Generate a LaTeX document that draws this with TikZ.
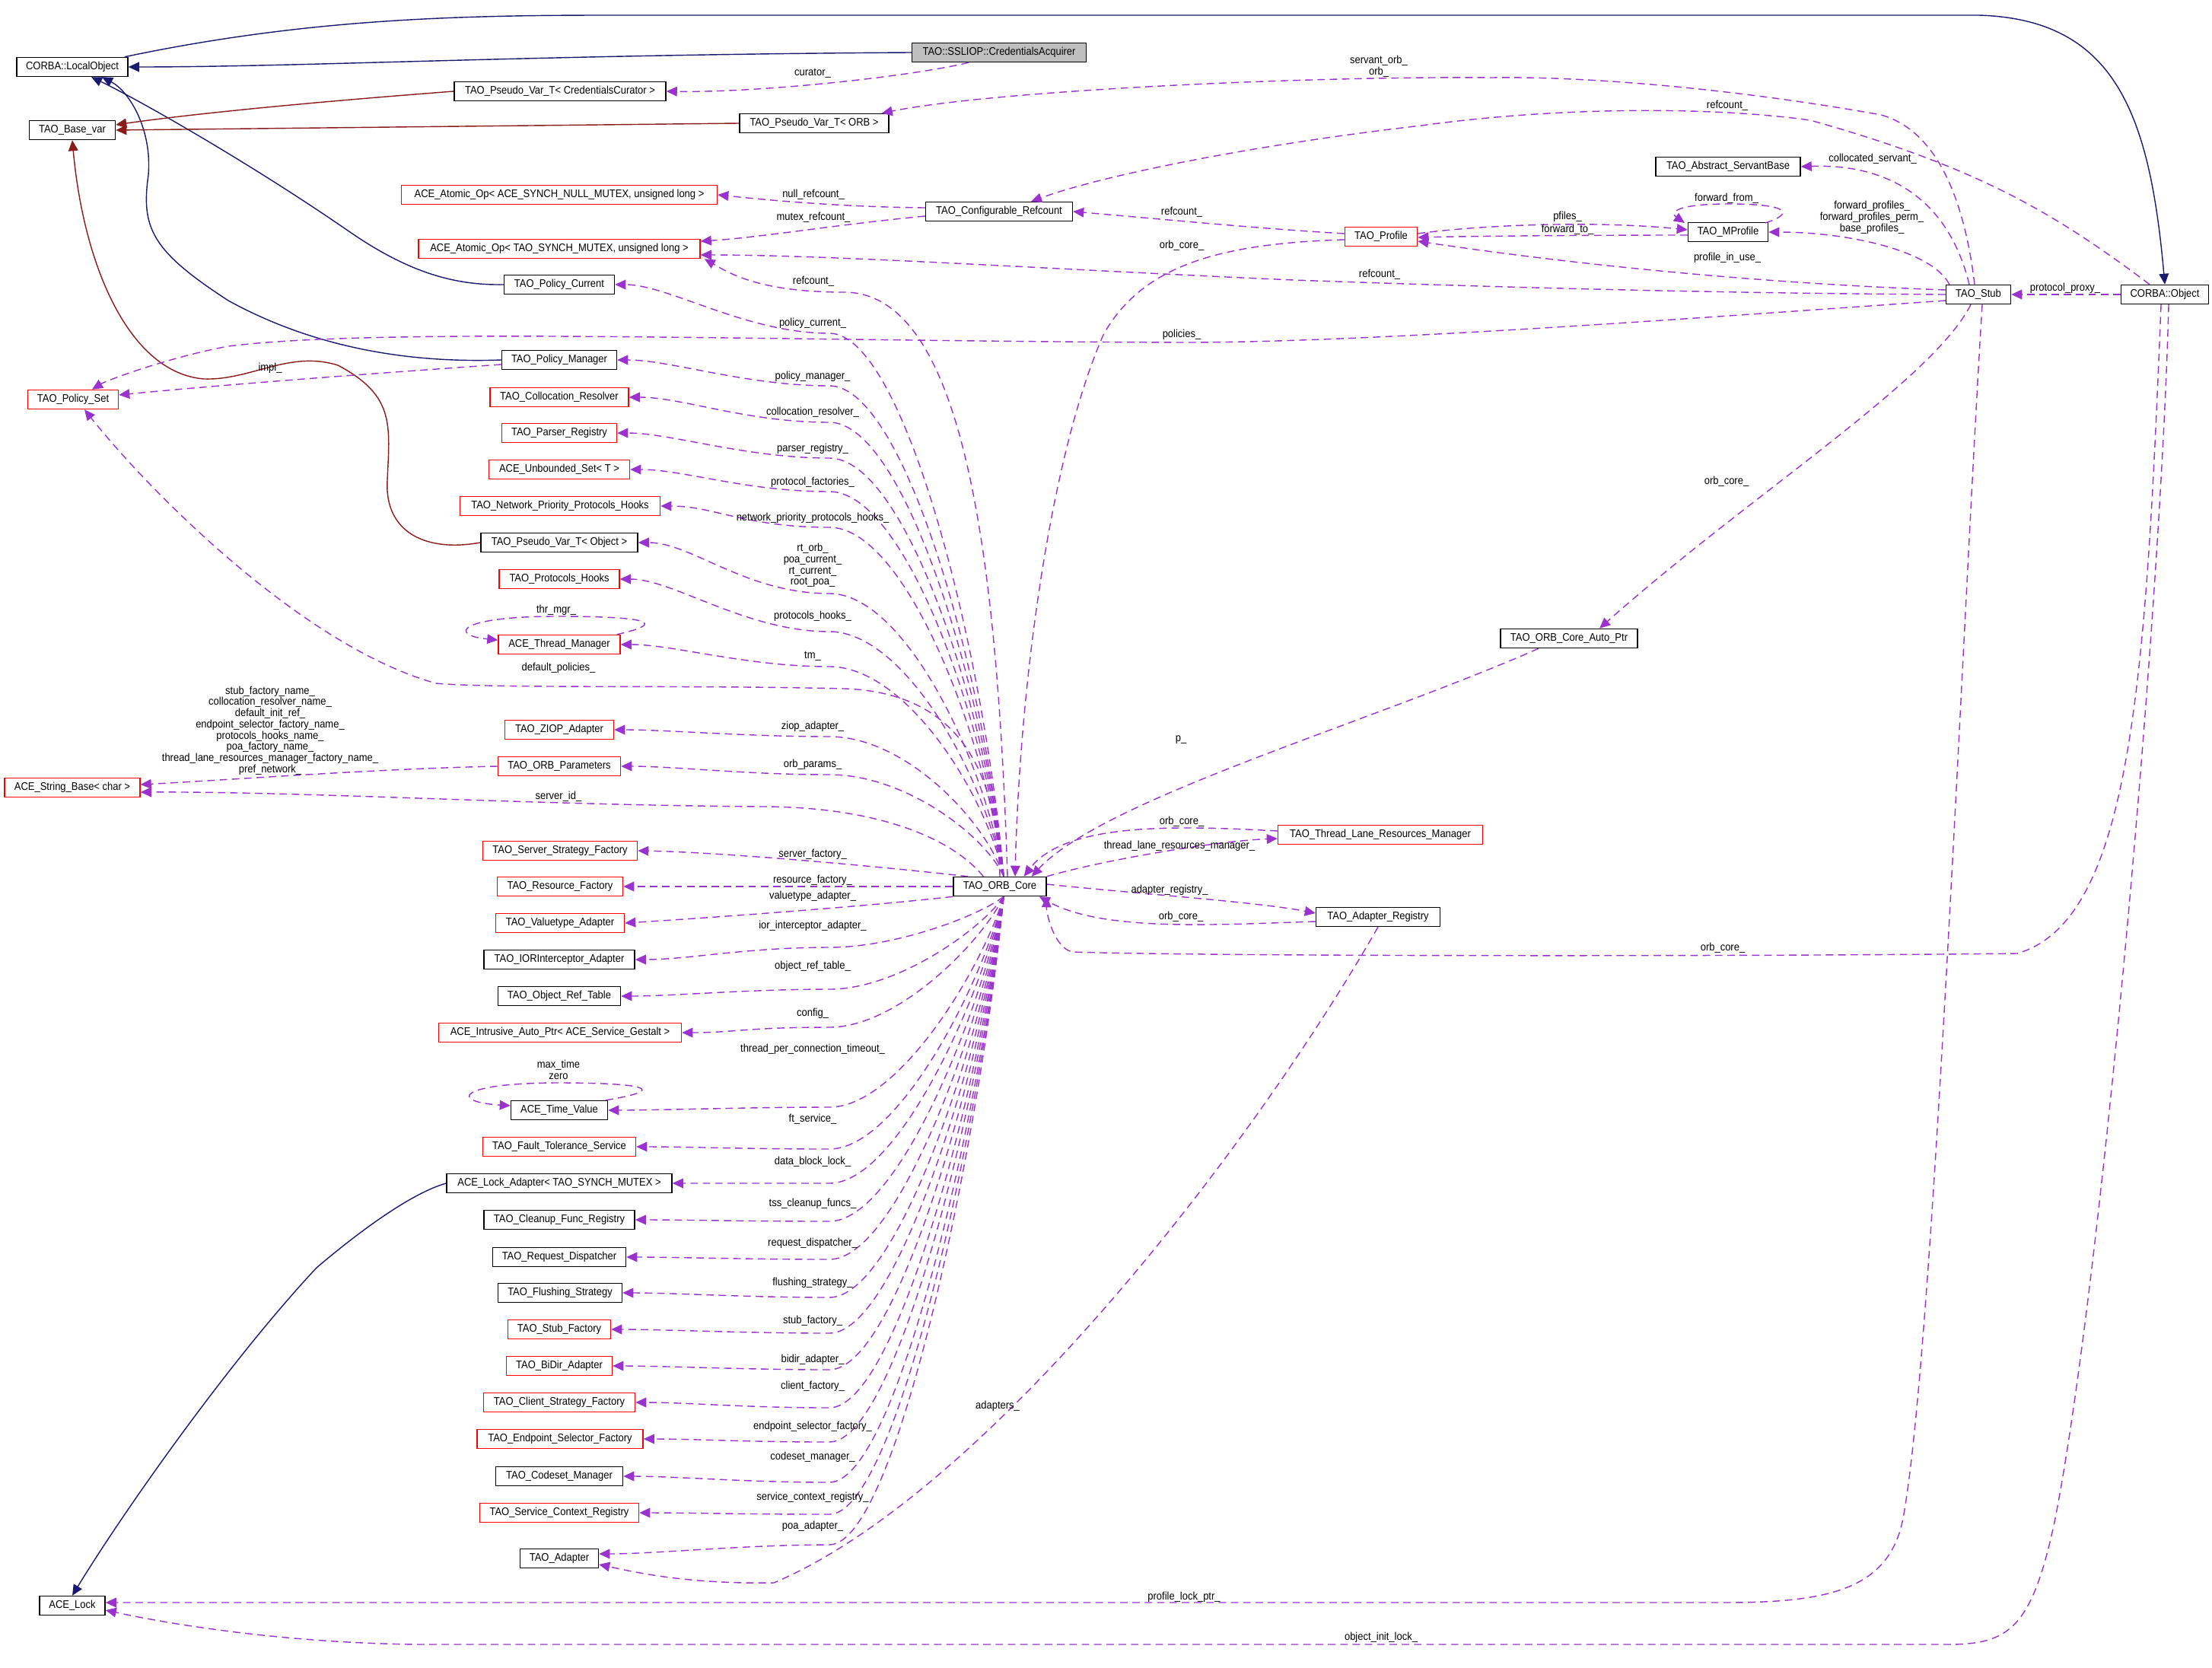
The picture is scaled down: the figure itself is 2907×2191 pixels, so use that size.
\documentclass[tikz,border=0pt]{standalone}
\usepackage{fontspec}
\setmainfont{Liberation Sans}[FakeStretch=0.9]
\usetikzlibrary{calc,arrows.meta}
\definecolor{pur}{RGB}{154,50,205}
\definecolor{nav}{RGB}{25,25,112}
\definecolor{dred}{RGB}{139,26,26}
\definecolor{gfill}{RGB}{191,191,191}
\newcommand\lbf{\fontsize{4.1}{4.2}\selectfont}
\tikzset{
 bx/.style={draw=black, line width=0.4pt, minimum height=0.25cm, inner sep=0pt, font=\lbf},
 rbx/.style={bx, draw=red},
 lbl/.style={font=\lbf, inner sep=0pt, align=center},
 use/.style={draw=pur, line width=0.4pt, dash pattern=on 2.8pt off 1.8pt, -{Triangle[length=4pt,width=3.6pt]}},
 inh/.style={draw=nav, line width=0.4pt, -{Triangle[length=4pt,width=3.6pt]}},
 inhr/.style={draw=dred, line width=0.4pt, -{Triangle[length=4pt,width=3.6pt]}}
}
\newcommand\bxn[6]{\node[#6, minimum width={#4*0.01cm}] (#1) at (#2,#3) {#5};}
\newcommand\fu[4]{\draw[use] ($(orbc.north)+(5,0)$) .. controls (1295,{1152-0.4*(1152-#2)}) and (1190,#2) .. (1090,#2) .. controls (980,#2) and ($(#1.east)+(70,0)$) .. (#1.east);
 \node[lbl] at (1068,#3) {#4};}
\newcommand\fd[4]{\draw[use] ($(orbc.south)+(5,0)$) .. controls (1290,{1178+0.35*(#2-1178)}) and (1180,#2) .. (1090,#2) .. controls (980,#2) and ($(#1.east)+(70,0)$) .. (#1.east);
 \node[lbl] at (1068,#3) {#4};}
\begin{document}
\begin{tikzpicture}[x=0.01cm,y=-0.01cm]
\useasboundingbox (0,0) rectangle (2907,2191);
% nodes
\bxn{lo}{95}{88}{146}{CORBA::LocalObject}{bx}
\bxn{bv}{95}{171}{113}{TAO\_Base\_var}{bx}
\bxn{ca}{1313}{69}{229}{TAO::SSLIOP::CredentialsAcquirer}{bx,fill=gfill}
\bxn{pvc}{736}{120}{278}{TAO\_Pseudo\_Var\_T< CredentialsCurator >}{bx}
\bxn{pvo}{1070}{162}{196}{TAO\_Pseudo\_Var\_T< ORB >}{bx}
\bxn{anull}{735}{256}{415}{ACE\_Atomic\_Op< ACE\_SYNCH\_NULL\_MUTEX, unsigned long >}{rbx}
\bxn{cref}{1313}{278}{193}{TAO\_Configurable\_Refcount}{bx}
\bxn{atao}{735}{327}{370}{ACE\_Atomic\_Op< TAO\_SYNCH\_MUTEX, unsigned long >}{rbx}
\bxn{pcur}{735}{374}{145}{TAO\_Policy\_Current}{bx}
\bxn{pman}{735}{473}{151}{TAO\_Policy\_Manager}{bx}
\bxn{pset}{96}{525}{119}{TAO\_Policy\_Set}{rbx}
\bxn{coll}{735}{522}{182}{TAO\_Collocation\_Resolver}{rbx}
\bxn{parser}{735}{569}{151}{TAO\_Parser\_Registry}{rbx}
\bxn{unb}{735}{617}{185}{ACE\_Unbounded\_Set< T >}{rbx}
\bxn{nph}{736}{665}{263}{TAO\_Network\_Priority\_Protocols\_Hooks}{rbx}
\bxn{pvob}{735}{713}{206}{TAO\_Pseudo\_Var\_T< Object >}{bx}
\bxn{phooks}{735}{761}{158}{TAO\_Protocols\_Hooks}{rbx}
\bxn{thm}{735}{847}{160}{ACE\_Thread\_Manager}{rbx}
\bxn{ziop}{735}{959}{143}{TAO\_ZIOP\_Adapter}{rbx}
\bxn{orbp}{735}{1007}{161}{TAO\_ORB\_Parameters}{rbx}
\bxn{sb}{95}{1035}{178}{ACE\_String\_Base< char >}{rbx}
\bxn{ssf}{736}{1118}{203}{TAO\_Server\_Strategy\_Factory}{rbx}
\bxn{orbc}{1314}{1165}{122}{TAO\_ORB\_Core}{bx}
\bxn{rf}{736}{1165}{165}{TAO\_Resource\_Factory}{rbx}
\bxn{vt}{736}{1213}{169}{TAO\_Valuetype\_Adapter}{rbx}
\bxn{ior}{735}{1261}{198}{TAO\_IORInterceptor\_Adapter}{bx}
\bxn{ort}{735}{1309}{161}{TAO\_Object\_Ref\_Table}{bx}
\bxn{iap}{736}{1357}{319}{ACE\_Intrusive\_Auto\_Ptr< ACE\_Service\_Gestalt >}{rbx}
\bxn{tv}{735}{1459}{127}{ACE\_Time\_Value}{bx}
\bxn{ft}{735}{1507}{201}{TAO\_Fault\_Tolerance\_Service}{rbx}
\bxn{la}{735}{1555}{296}{ACE\_Lock\_Adapter< TAO\_SYNCH\_MUTEX >}{bx}
\bxn{cfr}{735}{1603}{198}{TAO\_Cleanup\_Func\_Registry}{bx}
\bxn{rd}{735}{1652}{175}{TAO\_Request\_Dispatcher}{bx}
\bxn{fs}{736}{1699}{163}{TAO\_Flushing\_Strategy}{bx}
\bxn{stf}{735}{1747}{135}{TAO\_Stub\_Factory}{rbx}
\bxn{bidir}{735}{1795}{139}{TAO\_BiDir\_Adapter}{rbx}
\bxn{csf}{735}{1843}{199}{TAO\_Client\_Strategy\_Factory}{rbx}
\bxn{esf}{736}{1891}{218}{TAO\_Endpoint\_Selector\_Factory}{rbx}
\bxn{csm}{735}{1940}{167}{TAO\_Codeset\_Manager}{bx}
\bxn{scr}{735}{1988}{209}{TAO\_Service\_Context\_Registry}{rbx}
\bxn{ad}{735}{2048}{103}{TAO\_Adapter}{bx}
\bxn{lock}{95}{2110}{86}{ACE\_Lock}{bx}
\bxn{abs}{2271}{219}{190}{TAO\_Abstract\_ServantBase}{bx}
\bxn{prof}{1815}{311}{95}{TAO\_Profile}{rbx}
\bxn{mprof}{2271}{305}{105}{TAO\_MProfile}{bx}
\bxn{stub}{2600}{387}{85}{TAO\_Stub}{bx}
\bxn{obj}{2845}{387}{115}{CORBA::Object}{bx}
\bxn{oap}{2062}{839}{180}{TAO\_ORB\_Core\_Auto\_Ptr}{bx}
\bxn{tlrm}{1814}{1097}{269}{TAO\_Thread\_Lane\_Resources\_Manager}{rbx}
\bxn{areg}{1811}{1205}{163}{TAO\_Adapter\_Registry}{bx}
% inheritance
\draw[inh] (ca.west) .. controls (700,72) and (400,88) .. (lo.east);
\draw[inh] ($(lo.north east)+(-5,0)$) .. controls (400,25) and (600,20) .. (800,20) -- (2600,20) .. controls (2780,25) and (2825,150) .. (obj.north);
\draw[inh] (pcur.west) .. controls (600,375) and (540,360) .. (460,305) .. controls (330,215) and (180,130) .. ($(lo.south)+(25,0)$);
\draw[inh] (pman.west) .. controls (520,478) and (400,450) .. (300,395) .. controls (200,330) and (185,300) .. (195,230) .. controls (200,170) and (170,120) .. ($(lo.south)+(39,0)$);
\draw[inhr] (pvc.west) .. controls (400,135) and (250,150) .. ($(bv.east)+(0,-7)$);
\draw[inhr] (pvo.west) -- ($(bv.east)+(0,0)$);
\draw[inhr] (pvob.west) .. controls (560,726) and (505,700) .. (509,631) .. controls (512,560) and (520,520) .. (444,480) .. controls (380,460) and (330,500) .. (268,498) .. controls (170,490) and (110,350) .. (bv.south);
\draw[inh] (la.west) .. controls (540,1568) and (470,1620) .. (416,1666) .. controls (300,1790) and (160,1990) .. (lock.north);
% usage edges
\draw[use] ($(ca.south)+(-40,0)$) .. controls (1200,100) and (1000,122) .. (pvc.east);
\node[lbl] at (1068,96) {curator\_};
\draw[use] ($(stub.north)+(-5,0)$) .. controls (2580,250) and (2540,170) .. (2472,151) .. controls (2300,120) and (2100,100) .. (1961,102) .. controls (1700,100) and (1300,120) .. ($(pvo.north east)+(-10,0)$);
\node[lbl] at (1812,87) {servant\_orb\_\\orb\_};
\draw[use] ($(obj.north)+(-20,0)$) .. controls (2700,280) and (2600,220) .. (2379,158) .. controls (2250,140) and (2050,140) .. (1868,165) .. controls (1650,190) and (1450,230) .. ($(cref.north)+(42,0)$);
\node[lbl] at (2270,139) {refcount\_};
\draw[use] ($(stub.north)+(-12,0)$) .. controls (2560,260) and (2480,215) .. (abs.east);
\node[lbl] at (2461,209) {collocated\_servant\_};
\draw[use] ($(cref.west)+(0,-5)$) .. controls (1100,272) and (1000,262) .. (anull.east);
\node[lbl] at (1069,256) {null\_refcount\_};
\draw[use] ($(cref.west)+(0,6)$) .. controls (1100,295) and (1000,312) .. ($(atao.east)+(0,-10)$);
\node[lbl] at (1069,286) {mutex\_refcount\_};
\draw[use] ($(prof.west)+(0,-4)$) .. controls (1650,300) and (1550,290) .. (cref.east);
\node[lbl] at (1553,279) {refcount\_};
\draw[use] ($(prof.east)+(0,-4)$) .. controls (1950,295) and (2100,290) .. ($(mprof.west)+(0,-3)$);
\draw[use] ($(mprof.west)+(0,4)$) .. controls (2100,309) and (1950,310) .. ($(prof.east)+(0,1)$);
\node[lbl] at (2060,285) {pfiles\_};
\node[lbl] at (2060,302) {forward\_to\_};
\draw[use] (2320,293) .. controls (2360,280) and (2350,268) .. (2272,268) .. controls (2200,268) and (2195,280) .. (2214,293);
\node[lbl] at (2269,261) {forward\_from\_};
\draw[use] ($(stub.north west)+(5,0)$) .. controls (2540,330) and (2430,305) .. (mprof.east);
\node[lbl] at (2460,286) {forward\_profiles\_\\forward\_profiles\_perm\_\\base\_profiles\_};
\draw[use] ($(stub.west)+(0,-6)$) .. controls (2300,372) and (2050,345) .. ($(prof.east)+(0,6)$);
\node[lbl] at (2270,339) {profile\_in\_use\_};
\draw[use] (stub.west) .. controls (2200,385) and (1900,375) .. (1700,368) .. controls (1400,355) and (1100,335) .. ($(atao.east)+(0,8)$);
\node[lbl] at (1813,361) {refcount\_};
\draw[use] ($(orbc.north)+(10,0)$) .. controls (1310,700) and (1260,385) .. (1110,384) .. controls (1000,384) and (960,360) .. ($(atao.south east)+(5,0)$);
\node[lbl] at (1069,370) {refcount\_};
\draw[use] ($(prof.west)+(0,4)$) .. controls (1600,320) and (1500,350) .. (1450,440) .. controls (1380,600) and (1340,900) .. ($(orbc.north)+(20,0)$);
\node[lbl] at (1553,323) {orb\_core\_};
\draw[use] ($(stub.west)+(0,8)$) .. controls (2200,420) and (1800,450) .. (1553,450) .. controls (1000,448) and (500,430) .. (300,455) .. controls (220,470) and (140,500) .. ($(pset.north)+(25,0)$);
\node[lbl] at (1553,440) {policies\_};
\draw[use] ($(pman.west)+(0,6)$) .. controls (500,490) and (300,505) .. ($(pset.east)+(0,-6)$);
\node[lbl] at (355,484) {impl\_};
\draw[use] (orbc.north) .. controls (1310,1000) and (1250,910) .. (1110,905) .. controls (900,900) and (650,905) .. (573,898) .. controls (400,850) and (200,650) .. ($(pset.south)+(15,0)$);
\node[lbl] at (734,878) {default\_policies\_};
\draw[use] (obj.west) -- (stub.east);
\node[lbl] at (2714,379) {protocol\_proxy\_};
\draw[use] ($(stub.south)+(-10,0)$) .. controls (2540,500) and (2300,650) .. ($(oap.north)+(40,0)$);
\node[lbl] at (2269,633) {orb\_core\_};
\draw[use] ($(oap.south)+(-40,0)$) .. controls (1800,950) and (1450,1050) .. ($(orbc.north east)+(-20,0)$);
\node[lbl] at (1552,972) {p\_};
\draw[use] ($(tlrm.west)+(0,-5)$) .. controls (1550,1085) and (1400,1080) .. ($(orbc.north east)+(-30,0)$);
\node[lbl] at (1553,1080) {orb\_core\_};
\draw[use] (orbc.north east) .. controls (1450,1130) and (1600,1105) .. ($(tlrm.west)+(0,5)$);
\node[lbl] at (1550,1112) {thread\_lane\_resources\_manager\_};
\draw[use] ($(orbc.east)+(0,-3)$) .. controls (1500,1175) and (1650,1185) .. ($(areg.west)+(0,-5)$);
\node[lbl] at (1537,1170) {adapter\_registry\_};
\draw[use] ($(areg.west)+(0,6)$) .. controls (1600,1215) and (1450,1225) .. ($(orbc.south east)+(-10,0)$);
\node[lbl] at (1552,1205) {orb\_core\_};
\draw[use] ($(obj.south)+(-5,0)$) .. controls (2820,900) and (2800,1210) .. (2651,1253) .. controls (2300,1257) and (1600,1257) .. (1409,1251) .. controls (1385,1245) and (1375,1200) .. (orbc.south east);
\node[lbl] at (2264,1246) {orb\_core\_};
\draw[use] (areg.south) .. controls (1650,1500) and (1300,1960) .. (1017,2080) .. controls (900,2082) and (830,2065) .. ($(ad.east)+(0,8)$);
\node[lbl] at (1311,1848) {adapters\_};
\draw[use] ($(stub.south)+(5,0)$) .. controls (2580,800) and (2540,1800) .. (2500,2000) .. controls (2480,2090) and (2400,2106) .. (2266,2106) -- ($(lock.east)+(0,-4)$);
\node[lbl] at (1556,2099) {profile\_lock\_ptr\_};
\draw[use] ($(obj.south)+(5,0)$) .. controls (2840,800) and (2760,1700) .. (2700,2000) .. controls (2670,2140) and (2640,2161) .. (2560,2161) -- (555,2161) .. controls (400,2160) and (250,2140) .. ($(lock.east)+(0,6)$);
\node[lbl] at (1815,2152) {object\_init\_lock\_};
\draw[use] (orbp.west) .. controls (500,1010) and (300,1025) .. ($(sb.east)+(0,-4)$);
\node[lbl] at (355,960) {stub\_factory\_name\_\\collocation\_resolver\_name\_\\default\_init\_ref\_\\endpoint\_selector\_factory\_name\_\\protocols\_hooks\_name\_\\poa\_factory\_name\_\\thread\_lane\_resources\_manager\_factory\_name\_\\pref\_network\_};
\draw[use] ($(orbc.north west)+(40,0)$) .. controls (1250,1100) and (1150,1060) .. (1000,1060) .. controls (700,1058) and (400,1040) .. ($(sb.east)+(0,6)$);
\node[lbl] at (734,1047) {server\_id\_};
\draw[use] (orbc.west) -- (rf.east);
\node[lbl] at (1068,1157) {resource\_factory\_};
\draw[use] (orbc.south west) .. controls (1150,1190) and (950,1205) .. (vt.east);
\node[lbl] at (1068,1178) {valuetype\_adapter\_};
\draw[use] ($(orbc.north west)+(20,0)$) .. controls (1150,1138) and (950,1120) .. (ssf.east);
\node[lbl] at (1068,1123) {server\_factory\_};
% self loops
\draw[use] ($(thm.north east)+(-5,0)$) .. controls (880,818) and (850,810) .. (731,810) .. controls (600,810) and (590,835) .. ($(thm.west)+(0,-6)$);
\node[lbl] at (731,802) {thr\_mgr\_};
\draw[use] ($(tv.north east)+(-3,0)$) .. controls (880,1432) and (850,1423) .. (734,1423) .. controls (600,1423) and (590,1448) .. ($(tv.west)+(0,-6)$);
\node[lbl] at (734,1406) {max\_time\\zero};
% fan from ORB core
\fu{pcur}{438}{425}{policy\_current\_}
\fu{pman}{507}{495}{policy\_manager\_}
\fu{coll}{555}{542}{collocation\_resolver\_}
\fu{parser}{602}{590}{parser\_registry\_}
\fu{unb}{646}{634}{protocol\_factories\_}
\fu{nph}{693}{681}{network\_priority\_protocols\_hooks\_}
\fu{pvob}{780}{743}{rt\_orb\_\\poa\_current\_\\rt\_current\_\\root\_poa\_}
\fu{phooks}{830}{810}{protocols\_hooks\_}
\fu{thm}{876}{862}{tm\_}
\fu{ziop}{968}{955}{ziop\_adapter\_}
\fu{orbp}{1018}{1005}{orb\_params\_}
\fd{ior}{1245}{1217}{ior\_interceptor\_adapter\_}
\fd{ort}{1300}{1270}{object\_ref\_table\_}
\fd{iap}{1350}{1332}{config\_}
\fd{tv}{1455}{1379}{thread\_per\_connection\_timeout\_}
\fd{ft}{1510}{1471}{ft\_service\_}
\fd{la}{1555}{1527}{data\_block\_lock\_}
\fd{cfr}{1605}{1582}{tss\_cleanup\_funcs\_}
\fd{rd}{1655}{1634}{request\_dispatcher\_}
\fd{fs}{1705}{1686}{flushing\_strategy\_}
\fd{stf}{1752}{1736}{stub\_factory\_}
\fd{bidir}{1800}{1787}{bidir\_adapter\_}
\fd{csf}{1850}{1822}{client\_factory\_}
\fd{esf}{1895}{1875}{endpoint\_selector\_factory\_}
\fd{csm}{1948}{1915}{codeset\_manager\_}
\fd{scr}{1990}{1968}{service\_context\_registry\_}
\draw[use] ($(orbc.south)+(5,0)$) .. controls (1290,1480) and (1180,2030) .. (1090,2030) .. controls (980,2030) and (860,2042) .. ($(ad.east)+(0,-6)$);
\node[lbl] at (1068,2006) {poa\_adapter\_};
\end{tikzpicture}
\end{document}
